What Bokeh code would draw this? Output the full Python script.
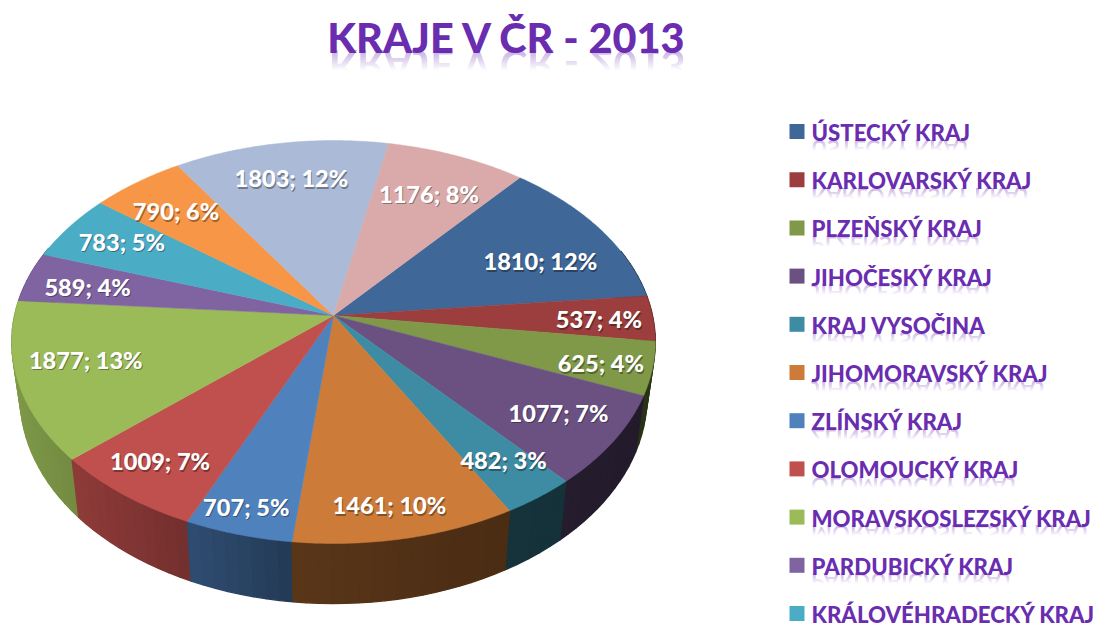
import numpy as np
from bokeh.plotting import figure
from bokeh.embed import file_html
from bokeh.resources import INLINE
from bokeh.core.properties import value
from bokeh.models import Div
from bokeh.layouts import column

# ---- data -------------------------------------------------------------
TITLE = "KRAJE V ČR - 2013"
LEGEND_NAMES = ["ÚSTECKÝ KRAJ", "KARLOVARSKÝ KRAJ", "PLZEŇSKÝ KRAJ", "JIHOČESKÝ KRAJ",
                "KRAJ VYSOČINA", "JIHOMORAVSKÝ KRAJ", "ZLÍNSKÝ KRAJ", "OLOMOUCKÝ KRAJ",
                "MORAVSKOSLEZSKÝ KRAJ", "PARDUBICKÝ KRAJ", "KRÁLOVÉHRADECKÝ KRAJ"]
VALUES = [1810, 537, 625, 1077, 482, 1461, 707, 1009, 1877, 589, 783, 790, 1803, 1176]
PERCENTS = [12, 4, 4, 7, 3, 10, 5, 7, 13, 4, 5, 6, 12, 8]

# ---- style / layout ----------------------------------------------------
COLORS = ["#3F6797", "#9B3E3D", "#7F9948", "#6A5182", "#3D8CA3", "#CC7B38", "#4F81BD",
          "#C0504D", "#9BBB59", "#8064A2", "#4BACC6", "#F79646", "#AABAD7", "#D9AAA9"]
LABEL_R = [.73, .83, .845, .807, .825, .865, .89, .835, .785, .80, .80, .775, .775, .745]
LABEL_DT = [5, .5, 1, -1, -1, 1, .7, .3, 2.6, -.8, 1, -.7, 0, .3]
START = 40.0
CX, CY = 333.0, 315.0
A, B, K = 198.0, 319.0, 0.1316
PURPLE = "#6A2DB0"
LEG_Y0, LEG_DY = 131.0, 48.2
TITLE_PX, LEG_PX, LAB_PX = 41.4, 22.2, 23.6
HEAVY = "Lato Black"


def project(theta_deg, r=1.0):
    t = np.radians(theta_deg)
    u, v = r * np.sin(t), r * np.cos(t)
    d = 1 + K * v
    return B * u / d, A * v / d   # X right, Y up, relative to apex


def shade(color, f):
    c = [int(color[i:i + 2], 16) for i in (1, 3, 5)]
    return "#%02x%02x%02x" % tuple(int(x * f) for x in c)


def reflection(text, left, baseline, px, width, align="left", strength=.4):
    html = (f'<div style="font:bold {px}px/1 Lato;color:{PURPLE};white-space:nowrap;'
            f'width:{width}px;text-align:{align};transform:scaleY(-1);'
            f'-webkit-mask-image:linear-gradient(to top,rgba(0,0,0,{strength}) 10%,transparent 62%);'
            f'mask-image:linear-gradient(to top,rgba(0,0,0,{strength}) 10%,transparent 62%);">{text}</div>')
    return Div(text=html, width=width, height=int(px) + 1, margin=0,
               styles={"position": "absolute", "left": f"{left}px",
                       "top": f"{baseline - .113 * px:.1f}px", "pointer-events": "none"})


p = figure(width=1096, height=623, x_range=(0, 1096), y_range=(623, 0),
           output_backend="svg", toolbar_location=None, min_border=0,
           outline_line_color=None)
p.axis.visible = False
p.grid.visible = False

vals = np.array(VALUES, float)
edges = START + np.concatenate([[0], np.cumsum(vals)]) / vals.sum() * 360.0

# side wall strips, back to front
quads = []
for i, col in enumerate(COLORS):
    a, b = edges[i], edges[i + 1]
    n = max(2, int((b - a) / 2))
    ts = np.linspace(a, b, n + 1)
    for t0, t1 in zip(ts[:-1], ts[1:]):
        tm = (t0 + t1) / 2 % 360
        if not 70 < tm < 290:
            continue
        X0, Y0 = project(t0)
        X1, Y1 = project(t1)
        xs = [CX + X0, CX + X1, CX + X1 * .974, CX + X0 * .974]
        ys = [CY - Y0, CY - Y1, CY - Y1 * 1.025 + 54.4, CY - Y0 * 1.025 + 54.4]
        f = np.interp((X0 + X1) / 2 / 322, [-1, -.85, -.45, -.1, .4, 1],
                      [.82, .76, .6, .44, .38, .33])
        quads.append((np.mean(ys), xs, ys, shade(col, f)))
quads.sort(key=lambda q: q[0])
p.patches([q[1] for q in quads], [q[2] for q in quads],
          fill_color=[q[3] for q in quads], line_color=[q[3] for q in quads], line_width=1.3)

# top face
xs_top, ys_top = [], []
for i in range(len(VALUES)):
    ts = np.linspace(edges[i], edges[i + 1], max(3, int(edges[i + 1] - edges[i]) * 2))
    X, Y = project(ts)
    xs_top.append(np.concatenate([[CX], CX + X]).tolist())
    ys_top.append(np.concatenate([[CY], CY - Y]).tolist())
p.patches(xs_top, ys_top, fill_color=COLORS, line_color=COLORS, line_width=.5)

# data labels
mids = (edges[:-1] + edges[1:]) / 2 + np.array(LABEL_DT)
LX, LY = project(mids, np.array(LABEL_R))
labels = [f"{v}; {q}%" for v, q in zip(VALUES, PERCENTS)]
p.text(CX + LX + 1, CY - LY + 1.5, text=labels, text_color="#000000", text_alpha=.35,
       text_font=value(HEAVY), text_font_size=f"{LAB_PX}px",
       text_align="center", text_baseline="middle")
p.text(CX + LX, CY - LY, text=labels, text_color="#FFFFFF",
       text_font=value(HEAVY), text_font_size=f"{LAB_PX}px",
       text_align="center", text_baseline="middle")

# title
p.text([507], [36], text=[TITLE], text_color=PURPLE, text_font=value(HEAVY),
       text_font_size=f"{TITLE_PX}px", text_align="center",
       text_baseline="middle")

# legend
leg_y = LEG_Y0 + LEG_DY * np.arange(len(LEGEND_NAMES))
p.rect(x=[796.5] * len(LEGEND_NAMES), y=leg_y, width=15, height=15,
       fill_color=COLORS[:len(LEGEND_NAMES)], line_color=None)
p.text([811] * len(LEGEND_NAMES), leg_y + 1, text=LEGEND_NAMES, text_color=PURPLE,
       text_font=value(HEAVY), text_font_size=f"{LEG_PX}px",
       text_align="left", text_baseline="middle")

# mirrored, fading reflections under the title and legend texts
refl = [reflection(TITLE, 257, 50, TITLE_PX, 500, "center")]
for name, y in zip(LEGEND_NAMES, leg_y):
    if y + 8 < 610:
        refl.append(reflection(name, 811, y + 8, LEG_PX, 284))

page = column(p, *refl, spacing=0, margin=0)
open("out.html", "w").write(file_html(page, INLINE))
